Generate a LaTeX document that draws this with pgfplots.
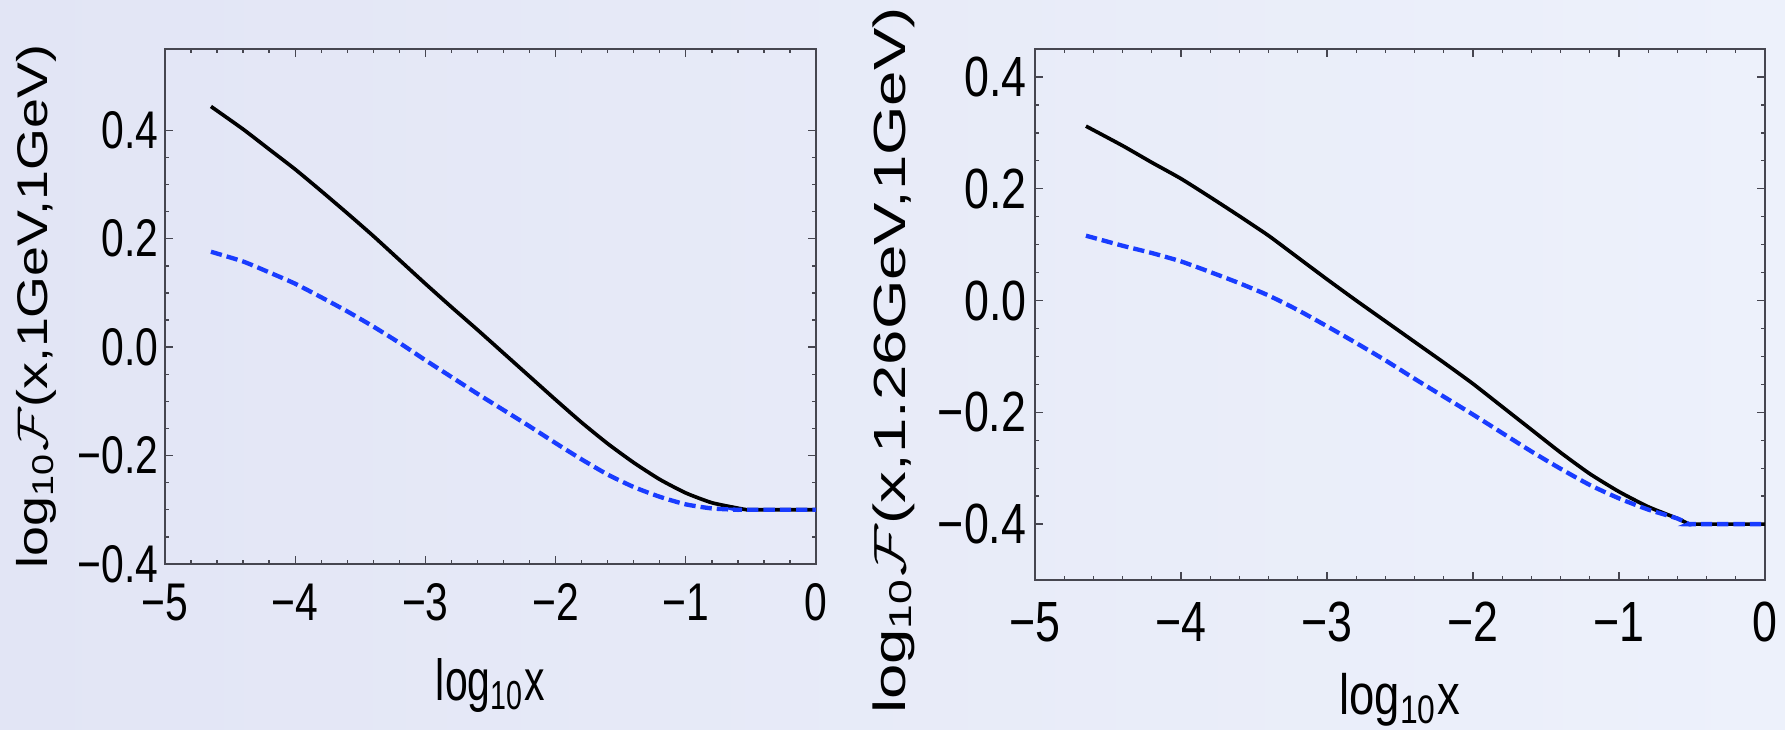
\documentclass[border=0pt]{standalone}
\usepackage{fontspec}
\setmainfont{Liberation Sans}
\newfontfamily\tickL{Liberation Sans}[FakeStretch=0.77]
\newfontfamily\tickR{Liberation Sans}[FakeStretch=0.79]
\usepackage{graphicx}
\usepackage{pgfplots}
\pgfplotsset{compat=1.18}

\definecolor{bgL}{RGB}{226,229,245}
\definecolor{bgR}{RGB}{237,241,251}
\definecolor{frame}{RGB}{70,70,80}
\definecolor{dblue}{RGB}{25,60,255}

\pgfplotsset{
  mmaframe/.style={
    scale only axis, xmin=-5, xmax=0,
    xtick={-5,-4,-3,-2,-1,0},
    xticklabels={−5,−4,−3,−2,−1,0},
    minor x tick num=4, minor y tick num=3,
    tick align=inside, major tick length=2.4pt, minor tick length=1.3pt,
    axis line style={frame, line width=0.5pt},
    tick style={frame, line width=0.4pt},
  },
  fline/.style={black, line width=1.1pt, line join=round, smooth, tension=0.35},
  gline/.style={dblue, line width=1.3pt, dash pattern=on 3.4pt off 1.5pt, smooth, tension=0.35},
}

\begin{document}
\begin{tikzpicture}
\shade[left color=bgL, right color=bgR] (0,0) rectangle (535.5pt,219pt);

% left panel: mu = 1 GeV
\begin{axis}[mmaframe,
    at={(49.5pt,49.8pt)}, anchor=south west,
    width=195.3pt, height=154.5pt,
    ymin=-0.4, ymax=0.55,
    ytick={-0.4,-0.2,0,0.2,0.4},
    yticklabels={−0.4,−0.2,0.0,0.2,0.4},
    tick label style={font=\tickL\fontsize{15.9}{16}\selectfont},
    xticklabel style={inner xsep=0pt, inner ysep=5.7pt},
    yticklabel style={inner ysep=0pt, inner xsep=1.8pt},
    xlabel={\resizebox*{32.7pt}{16.2pt}{log\textsubscript{10}x}},
    xlabel style={at={([yshift=-28.2pt]axis description cs:0.5,0)}, anchor=north, inner sep=0pt},
    ylabel={\resizebox*{157pt}{12pt}{log\textsubscript{10}$\mathcal{F}$(x,1GeV,1GeV)}},
    ylabel style={at={([xshift=-38.6pt]axis description cs:0,0.5)}, anchor=center, inner sep=0pt},
  ]
  \addplot[fline] coordinates {
    (-4.647,0.444) (-4.4,0.402) (-4.2,0.365) (-4.0,0.328) (-3.8,0.288)
    (-3.6,0.247) (-3.4,0.205) (-3.2,0.161) (-3.0,0.117) (-2.8,0.074)
    (-2.6,0.032) (-2.4,-0.011) (-2.2,-0.054) (-2.0,-0.097) (-1.8,-0.139)
    (-1.6,-0.178) (-1.4,-0.213) (-1.2,-0.244) (-1.0,-0.269) (-0.8,-0.287)
    (-0.6,-0.297) (-0.53,-0.300) (-0.51,-0.300) (0,-0.300)
  };
  \addplot[gline] coordinates {
    (-4.647,0.176) (-4.4,0.158) (-4.2,0.138) (-4.0,0.117) (-3.8,0.092)
    (-3.6,0.066) (-3.4,0.038) (-3.2,0.008) (-3.0,-0.024) (-2.8,-0.055)
    (-2.6,-0.086) (-2.4,-0.116) (-2.2,-0.146) (-2.0,-0.177) (-1.8,-0.207)
    (-1.6,-0.235) (-1.4,-0.258) (-1.2,-0.276) (-1.0,-0.290) (-0.8,-0.2975)
    (-0.6,-0.300) (-0.58,-0.300) (0,-0.300)
  };
\end{axis}

% right panel: mu = 1.26 GeV
\begin{axis}[mmaframe,
    at={(310.5pt,45pt)}, anchor=south west,
    width=219pt, height=159.3pt,
    ymin=-0.5, ymax=0.45,
    ytick={-0.4,-0.2,0,0.2,0.4},
    yticklabels={−0.4,−0.2,0.0,0.2,0.4},
    tick label style={font=\tickR\fontsize{17}{17}\selectfont},
    xticklabel style={inner xsep=0pt, inner ysep=6.5pt},
    yticklabel style={inner ysep=0pt, inner xsep=2.4pt},
    xlabel={\resizebox*{36.3pt}{15.9pt}{log\textsubscript{10}x}},
    xlabel style={at={([yshift=-27.9pt]axis description cs:0.5,0)}, anchor=north, inner sep=0pt},
    ylabel={\resizebox*{212pt}{12.6pt}{log\textsubscript{10}$\mathcal{F}$(x,1.26GeV,1GeV)}},
    ylabel style={at={([xshift=-42.45pt,yshift=-13.8pt]axis description cs:0,0.5)}, anchor=center, inner sep=0pt},
  ]
  \addplot[fline] coordinates {
    (-4.651,0.312) (-4.4,0.277) (-4.2,0.247) (-4.0,0.218) (-3.8,0.185)
    (-3.6,0.151) (-3.4,0.116) (-3.2,0.077) (-3.0,0.038) (-2.8,0.000)
    (-2.6,-0.037) (-2.4,-0.074) (-2.2,-0.111) (-2.0,-0.149) (-1.8,-0.190)
    (-1.6,-0.231) (-1.4,-0.272) (-1.2,-0.310) (-1.0,-0.342) (-0.8,-0.369)
    (-0.6,-0.390) (-0.52,-0.400) (-0.50,-0.400) (0,-0.400)
  };
  \addplot[gline] coordinates {
    (-4.651,0.116) (-4.4,0.098) (-4.2,0.085) (-4.0,0.070) (-3.8,0.051)
    (-3.6,0.031) (-3.4,0.009) (-3.2,-0.017) (-3.0,-0.046) (-2.8,-0.076)
    (-2.6,-0.107) (-2.4,-0.140) (-2.2,-0.172) (-2.0,-0.204) (-1.8,-0.237)
    (-1.6,-0.270) (-1.4,-0.301) (-1.2,-0.330) (-1.0,-0.354) (-0.8,-0.374)
    (-0.6,-0.390) (-0.52,-0.400) (-0.50,-0.400) (0,-0.400)
  };
\end{axis}

\pgfresetboundingbox
\path (0,0) rectangle (535.5pt,219pt);
\end{tikzpicture}
\end{document}
